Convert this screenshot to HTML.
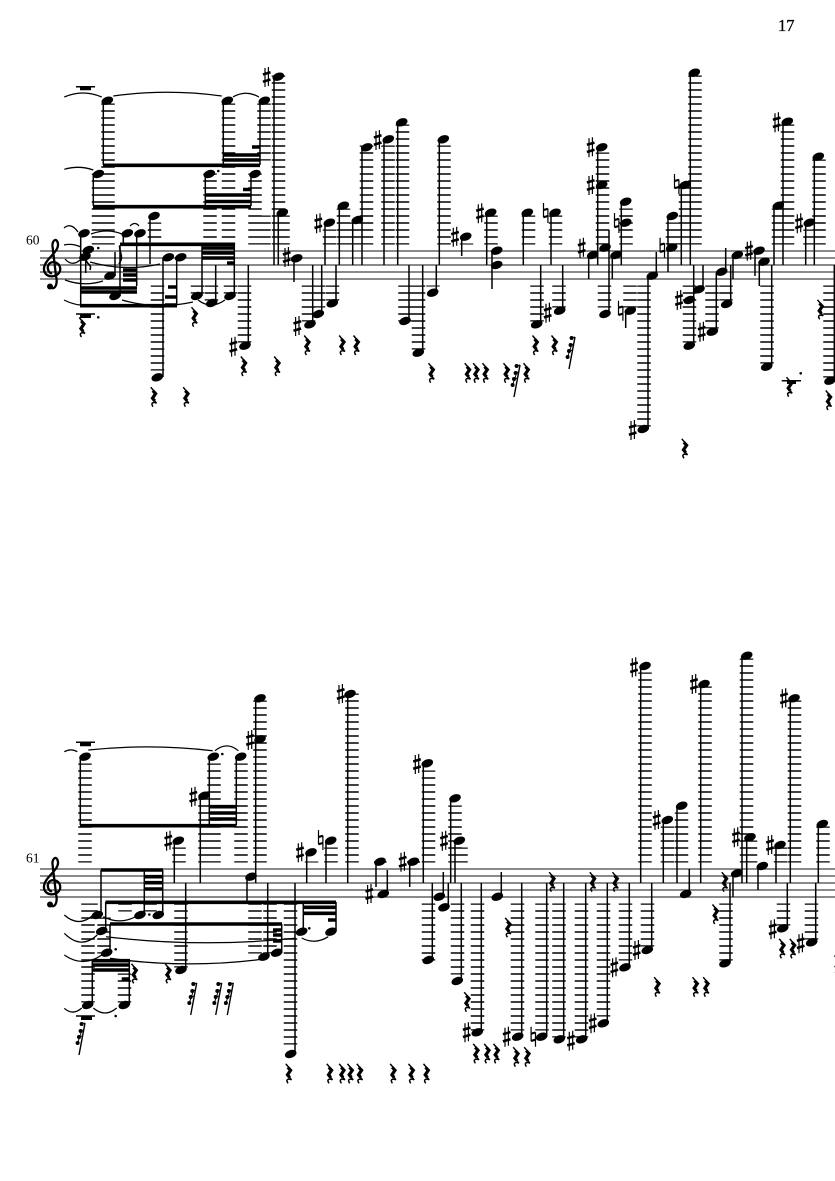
<!DOCTYPE html>
<html><head><meta charset="utf-8"><style>
html,body{margin:0;padding:0;background:#fff}
svg{display:block}
.st{stroke:#000;stroke-width:1.5;fill:none}
.ld{stroke:#000;stroke-width:13.5;stroke-dasharray:1.5 5.5;stroke-dashoffset:.2;fill:none}
.bm{stroke:#000;stroke-width:3.6;fill:none}
.tie{stroke:#000;stroke-width:1.25;fill:none}
.sl{stroke:#444;stroke-width:1.2;fill:none}
text{font-family:"Liberation Serif",serif;fill:#000}
</style></head><body>
<svg xmlns="http://www.w3.org/2000/svg" width="835" height="1181" viewBox="0 0 835 1181">
<defs>
<ellipse id="h" rx="6" ry="3.900" transform="rotate(-20)"/>
<g id="s"><path d="M-1.700-9V10M1.700-10V9" stroke="#000" stroke-width="1.200" fill="none"/><path d="M-3.800-2.500 3.800-4.700M-3.800 4.700 3.800 2.500" stroke="#000" stroke-width="2.600" fill="none"/></g>
<g id="n"><path d="M-2.200-10V4.500M2.200-4.500V10" stroke="#000" stroke-width="1.200" fill="none"/><path d="M-2.200-3 2.200-4.200M-2.200 4.200 2.200 3" stroke="#000" stroke-width="2.200" fill="none"/></g>
<g id="r"><path d="M-2.500-9.500 2.800-3 -.8 1.500 3.200 6.500C0 5-3 6-.3 10" stroke="#000" stroke-width="1.500" fill="none"/><path d="M-.5-6 2.300-3 -.8 1.500 1.400 4.200" stroke="#000" stroke-width="3.200" fill="none"/></g>
<g id="k"><path d="M5-15-1 17" stroke="#000" stroke-width="1.400"/><circle cx="1.600" cy="-14" r="2"/><circle cx=".6" cy="-7" r="2"/><circle cx="-1" cy="-1" r="2"/><circle cx="-2.400" cy="5" r="2"/><path d="M1.600-14 5-15M.6-7 3.600-8M-1-1 2.400-2M-2.400 5 1-5" stroke="#000" stroke-width="1" fill="none"/></g>
<g id="c"><path d="M50 287C55 291 58 284 56 276L52.500 246C52 240 57 237 58 244C59 252 45 259 44 268C43 278 57 279 60 271C62 262 50 259 48 266C47 270 50 274 52 273" stroke="#000" stroke-width="2.300" fill="none"/><circle cx="50" cy="286.500" r="3"/></g>
</defs>
<rect width="835" height="1181" fill="#fff"/>
<text x="778" y="31" font-size="16.500" stroke="#000" stroke-width=".3">17</text>
<text x="26" y="244.500" font-size="13.500">60</text>
<text x="26" y="862.500" font-size="13.500">61</text>
<path class="sl" d="M40 251H835M40 258H835M40 265H835M40 272H835M40 279H835M40 869H835M40 876H835M40 883H835M40 890H835M40 897H835"/>
<use href="#c"/><use href="#c" y="618"/>

<!-- ledgers -->
<path class="ld" d="M108 103.500V244.500M98.500 173.500V244.500M228.500 103.500V244.500M264 103.500V160.500M264 215.500V244.500M255 173.500V244.500M210 173.500V244.500M283 215.500V244.500M278.500 75.500V244.500M154.500 222.500V244.500M157.500 285.500V370.500M197.500 285.500V293.500M211.500 285.500V300.500M230.500 285.500V293.500M244.500 285.500V342.500M308.500 285.500V321.500M318.500 285.500V307.500M332.500 285.500V300.500M329.500 229.500V244.500M343.500 208.500V244.500M357 222.500V244.500M366.500 145.500V244.500M388 145.500V244.500M402.500 124.500V244.500M444 145.500V244.500M405 285.500V321.500M418.500 285.500V349.500M433 285.500V286.500M466.500 243.500V244.500M491 215.500V244.500M528.500 215.500V244.500M555.500 215.500V244.500M537 285.500V321.500M559 285.500V307.500M602.500 152.500V244.500M604.500 285.500V307.500M626 208.500V244.500M630 285.500V307.500M644 285.500V426.500M672.500 222.500V244.500M685.500 187.500V244.500M695 75.500V244.500M689.500 285.500V342.500M712 285.500V328.500M726 285.500V300.500M767 285.500V363.500M778.500 208.500V244.500M787.500 124.500V244.500M810 229.500V244.500M819 159.500V244.500M830 285.500V377.500"/>
<path class="ld" d="M85 763.500V862.500M214 763.500V862.500M241 763.500V862.500M205 798.500V862.500M260 700.500V862.500M352 693.500V862.500M179 847.500V862.500M311.500 861.500V862.500M331 847.500V862.500M428.500 770.500V862.500M455 805.500V862.500M461 847.500V862.500M91 903.500V911.500M125 903.500V911.500M150 903.500V911.500M88 903.500V1002.500M104 917.500V953.500M124.500 973.500V1002.500M181 903.500V967.500M255 903.500V953.500M270 903.500V953.500M290.500 903.500V1044.500M428.500 903.500V960.500M457.500 903.500V974.500M477.500 903.500V1030.500M517.500 903.500V1030.500M542 903.500V1030.500M559 903.500V1037.500M581.500 903.500V1037.500M603.500 903.500V1016.500M625.500 903.500V960.500M647.500 903.500V946.500M645 672.500V862.500M667.500 826.500V862.500M681.500 812.500V862.500M705 686.500V862.500M726 903.500V960.500M746.500 658.500V862.500M750.500 840.500V862.500M780.500 847.500V862.500M794.500 700.500V862.500M783.500 903.500V925.500M823 826.500V862.500M811.500 903.500V939.500"/>
<path d="M374 862H386.500M407 862H420" stroke="#000" stroke-width="1.400" fill="none"/>

<!-- stems -->
<path class="st" d="M103.300 100V165M223.300 100V165M260 100V165M93.300 174V206M205.300 174V206M251 174V206M278.300 213V265M274 77V265M80.700 233V306M85.700 258V273M115 252V276M120 245V296M123.300 233V245M136.700 233V286M176.700 257V305M163 258V377M150 216V264M202 244V296M215.700 265V303M234.300 244V296M248.300 265V345M294 258V282M312.700 265V324M321.700 265V314M336 265V303M325 223V265M339.300 206V265M352.700 220V265M362 147V265M384 139V265M397.700 122V265M439.300 139V265M409 265V321M422.700 265V352M436.300 265V292M461.700 237V256M486.700 213V265M492 251V289M523.300 213V265M551 213V265M540.700 265V324M562.700 265V310M597.700 147V265M588.700 255V279M609 230V314M612.300 255V279M621.300 202V265M625.700 311V328M656.300 252V276M648 276V429M668 216V272M681.300 185V265M690.300 73V265M703 265V289M693.700 265V345M716.300 273V331M725.700 248V272M730.700 265V304M733 255V279M755 251V276M759.300 262V286M771.700 265V366M774 206V265M783 122V265M805.700 223V265M814.300 157V265M834.300 265V380"/>
<path class="st" d="M80.300 757V825M209.300 757V825M236.300 757V825M200.300 796V883M255.700 698V883M247 877V902M347.700 694V883M174.300 841V883M306.700 852V883M326 841V883M101 870V915M144.300 870V915M162.700 870V915M105.700 902V931M110 924V953M267.700 883V957M281.700 924V953M295 883V1054M303.300 902V931M336 902V931M185.700 883V970M92.300 961V1005M129.300 961V1005M376 862V887M387.300 870V894M409.700 862V887M423.300 763V883M443.300 872V897M432.300 883V960M448.300 883V907M450.700 798V883M455 841V883M461.300 883V981M481.300 883V1032M501.300 872V897M521.700 883V1037M546.700 883V1037M563.700 883V1039M585.700 883V1039M607.300 883V1023M629.300 883V967M651.700 883V950M640.700 666V883M663.300 820V883M677 806V883M689.300 869V894M700.700 684V883M730 883V963M733 873V897M742 656V883M746.700 837V883M758 866V890M776 845V883M790.300 698V883M787.300 883V928M818.300 824V883M815.700 883V942"/>
<path d="M119.500 246C120 255 124 256 119 264" stroke="#000" stroke-width="1.600" fill="none"/>
<path d="M86 260C88 266 92 264 90 270" stroke="#000" stroke-width="1.600" fill="none"/>

<!-- beams -->
<path class="bm" d="M103 165.300H260M93 206.700H251M205 195H251M205 201.500H251M243 189.500H251M223 155H260M223 160H260M252 147H260M80 288H137M80 292H137M123 270H137M123 275H137M123 280H137M80 305.700H177M120 244.300H235M202 248H234M202 253H234M202 258H234M227 263H234M168 287H177M165 297H177M165 305H177"/>
<path class="bm" d="M80 825.700H236.500M209 806.700H236.500M209 813H236.500M209 819H236.500M101 870H163M144 876.700H163M144 882.700H163M144 889H163M105.500 902.300H336M110 924H282M273 930H282M273 935H282M273 941H282M303 907.300H336M303 913.300H336M328 920H336M91.700 960.700H130M91.700 965H130M91.700 970H130M121.700 979H130"/>

<!-- whole/half rest bars -->
<path d="M76 86.700H95M781.700 380.700H801M76 314H95M76 742.300H95M76 1016H95" stroke="#000" stroke-width="1.500" fill="none"/>
<path d="M80 87H91V90.300H80ZM787 381H796V384H787ZM80 314.500H91V318H80ZM80 743H91V746.300H80ZM81 1016.500H92V1020H81Z"/>

<!-- ties -->
<path class="tie" d="M64.300 97Q83 89 101.700 97M113.300 96Q167 88.600 221.700 96M233 97Q246 89.600 259 97M64.300 169.300Q79 165 93.300 170M64 228Q71 222 78 232M91 234Q107 228 122 234M130 226Q135 221 139 226M64 245Q72 243 81 247M65 259Q72 267 80 260M65 280Q84 287 103 281M90 262Q125 272 160 264M64 300Q72 304 80 305M122 300Q157 310 193 302M198 300Q211 310 225 300"/>
<path class="tie" d="M64.300 751.700Q71 748 77.300 751.700M88.300 750Q150 743.400 212.700 750.700M215 750.700Q227 741 238.300 750.700M301.700 938Q315 945 328.300 936.700M64.300 915Q79 928 93.300 915M64.300 933.300Q81 950 97.300 935M64.300 955Q83 968 101.700 955M103.300 916.700Q119 925 135 917M106 936.700Q200 948 295 938.300M110 958.300Q186 969 261.700 959.300M64.300 1008.300Q73 1016 81.700 1008M93.300 1008Q105 1018 116.700 1008"/>

<!-- noteheads -->
<g>
<use href="#h" x="107.300" y="100.700"/><use href="#h" x="98.300" y="174"/><use href="#h" x="227.300" y="100.700"/><use href="#h" x="264.300" y="100.700"/><use href="#h" x="209.300" y="174"/><use href="#h" x="255" y="174"/><use href="#h" x="282.300" y="212.700"/><use href="#h" x="278.300" y="76.700"/><use href="#h" x="84" y="233.300"/><use href="#h" x="88.300" y="250"/><use href="#h" x="85" y="256.700"/><use href="#h" x="110" y="275.700"/><use href="#h" x="115" y="296"/><use href="#h" x="127.300" y="233.300"/><use href="#h" x="140" y="233.300"/><use href="#h" x="154" y="216"/><use href="#h" x="168.300" y="257.300"/><use href="#h" x="180.700" y="257.300"/><use href="#h" x="157.300" y="377.300"/><use href="#h" x="196.700" y="296"/><use href="#h" x="211.700" y="303"/><use href="#h" x="230" y="296"/><use href="#h" x="245" y="345.700"/>
<use href="#h" x="296.700" y="258.300"/><use href="#h" x="310" y="324.300"/><use href="#h" x="318.300" y="314"/><use href="#h" x="332.300" y="303.300"/><use href="#h" x="329.300" y="222.700"/><use href="#h" x="343.300" y="205.700"/><use href="#h" x="357.300" y="220"/><use href="#h" x="366.700" y="147.300"/><use href="#h" x="388.300" y="139.300"/><use href="#h" x="401.700" y="122.300"/><use href="#h" x="443.300" y="139.300"/><use href="#h" x="405" y="321"/><use href="#h" x="418.300" y="352.700"/><use href="#h" x="432.700" y="292.700"/><use href="#h" x="465.700" y="236.700"/><use href="#h" x="490.700" y="212.700"/><use href="#h" x="496.700" y="250.700"/><use href="#h" x="496.700" y="265"/><use href="#h" x="527.300" y="212.700"/><use href="#h" x="555" y="212.700"/><use href="#h" x="536.700" y="324.300"/><use href="#h" x="559.700" y="310.700"/>
<use href="#h" x="601.700" y="147.300"/><use href="#h" x="601.700" y="185"/><use href="#h" x="592.700" y="255"/><use href="#h" x="605" y="247.700"/><use href="#h" x="605" y="314"/><use href="#h" x="616" y="255"/><use href="#h" x="625.700" y="201.700"/><use href="#h" x="625.700" y="222.700"/><use href="#h" x="630.300" y="310.700"/><use href="#h" x="652.300" y="275.700"/><use href="#h" x="643.300" y="429"/><use href="#h" x="671.700" y="247.700"/><use href="#h" x="672.300" y="216"/><use href="#h" x="685" y="185"/><use href="#h" x="694.300" y="72.700"/><use href="#h" x="699" y="289.300"/><use href="#h" x="689.300" y="300"/><use href="#h" x="689.300" y="345.700"/><use href="#h" x="712.300" y="331.700"/><use href="#h" x="721.700" y="271.700"/><use href="#h" x="726.700" y="304"/><use href="#h" x="737.300" y="255"/><use href="#h" x="759" y="250.700"/><use href="#h" x="764" y="261.700"/><use href="#h" x="766.700" y="366.700"/><use href="#h" x="778.300" y="205.700"/><use href="#h" x="787.300" y="121.700"/><use href="#h" x="809.300" y="222.700"/><use href="#h" x="818.300" y="156.700"/><use href="#h" x="830" y="380.700"/>
<use href="#h" x="85" y="756.700"/><use href="#h" x="213.300" y="756.700"/><use href="#h" x="240.700" y="756.700"/><use href="#h" x="204" y="795.700"/><use href="#h" x="260" y="739.300"/><use href="#h" x="260" y="698.300"/><use href="#h" x="251" y="876.700"/><use href="#h" x="350" y="694"/><use href="#h" x="178.300" y="840.700"/><use href="#h" x="311" y="852.300"/><use href="#h" x="330.700" y="840.700"/><use href="#h" x="97.300" y="915"/><use href="#h" x="140" y="915"/><use href="#h" x="158.300" y="915"/><use href="#h" x="101.700" y="931"/><use href="#h" x="106.700" y="952.700"/><use href="#h" x="264" y="956.700"/><use href="#h" x="276.700" y="952.700"/><use href="#h" x="290.700" y="1054"/><use href="#h" x="301.700" y="931.700"/><use href="#h" x="331" y="931.700"/><use href="#h" x="181" y="970"/><use href="#h" x="87.700" y="1005"/><use href="#h" x="124.300" y="1005"/>
<use href="#h" x="380" y="861.700"/><use href="#h" x="383.300" y="894"/><use href="#h" x="413.300" y="861.700"/><use href="#h" x="427.300" y="763.300"/><use href="#h" x="439.300" y="896.700"/><use href="#h" x="428.300" y="960"/><use href="#h" x="444" y="907.300"/><use href="#h" x="455" y="798.300"/><use href="#h" x="459.300" y="840.700"/><use href="#h" x="457.300" y="981"/><use href="#h" x="477.300" y="1032.300"/><use href="#h" x="497.300" y="896.700"/><use href="#h" x="517.700" y="1036.700"/><use href="#h" x="541.700" y="1036.700"/><use href="#h" x="559.300" y="1039.300"/><use href="#h" x="581.700" y="1039.300"/>
<use href="#h" x="603.300" y="1023.300"/><use href="#h" x="625" y="967.300"/><use href="#h" x="647.300" y="950"/><use href="#h" x="645" y="666"/><use href="#h" x="667.300" y="820"/><use href="#h" x="681.700" y="805.700"/><use href="#h" x="685.700" y="894"/><use href="#h" x="704" y="684"/><use href="#h" x="725" y="963.300"/><use href="#h" x="736.700" y="873.300"/><use href="#h" x="746.700" y="655.700"/><use href="#h" x="750" y="837.300"/><use href="#h" x="762.300" y="866"/><use href="#h" x="780" y="845"/><use href="#h" x="794" y="698.300"/><use href="#h" x="782.700" y="928.300"/><use href="#h" x="822.300" y="824"/><use href="#h" x="811.700" y="942.300"/>
</g>

<!-- dots -->
<g><circle cx="218.300" cy="171" r="1.300"/><circle cx="98.300" cy="248" r="1.300"/><circle cx="98.300" cy="317.300" r="1.300"/><circle cx="800.700" cy="373.300" r="1.300"/><circle cx="222.300" cy="754" r="1.300"/><circle cx="149.300" cy="914.500" r="1.300"/><circle cx="115.700" cy="949.300" r="1.300"/><circle cx="309.300" cy="928.300" r="1.300"/><circle cx="115.700" cy="1016" r="1.300"/></g>

<!-- sharps -->
<g>
<use href="#s" x="266.700" y="77"/><use href="#s" x="233.300" y="346.700"/><use href="#s" x="286.700" y="257"/><use href="#s" x="297.300" y="326"/><use href="#s" x="318.300" y="223.300"/><use href="#s" x="377.700" y="140"/><use href="#s" x="455" y="236.700"/><use href="#s" x="480" y="213.300"/><use href="#s" x="547.700" y="312.700"/><use href="#s" x="590.700" y="147.300"/><use href="#s" x="590.700" y="185"/><use href="#s" x="581.700" y="247.700"/><use href="#s" x="632.700" y="430"/><use href="#s" x="679" y="300"/><use href="#s" x="701.700" y="331.700"/><use href="#s" x="749" y="250.700"/><use href="#s" x="776.700" y="122.300"/><use href="#s" x="799" y="223.300"/>
<use href="#s" x="193.300" y="796.700"/><use href="#s" x="250" y="740"/><use href="#s" x="340.700" y="694"/><use href="#s" x="168.300" y="840.700"/><use href="#s" x="300" y="852.300"/><use href="#s" x="369.300" y="894"/><use href="#s" x="402.700" y="861.700"/><use href="#s" x="417" y="764"/><use href="#s" x="444" y="840.700"/><use href="#s" x="466.700" y="1032.300"/><use href="#s" x="506.700" y="1036.700"/><use href="#s" x="571" y="1040.700"/><use href="#s" x="592.700" y="1023.300"/><use href="#s" x="614.300" y="967.300"/><use href="#s" x="636.700" y="950"/><use href="#s" x="634" y="667.300"/><use href="#s" x="656.700" y="820"/><use href="#s" x="694" y="684"/><use href="#s" x="736" y="837.300"/><use href="#s" x="770" y="845"/><use href="#s" x="784" y="698.300"/><use href="#s" x="772.700" y="929.300"/><use href="#s" x="800.700" y="943.300"/>
</g>
<!-- naturals -->
<g><use href="#n" x="545.700" y="213"/><use href="#n" x="616.700" y="223"/><use href="#n" x="620.700" y="310.700"/><use href="#n" x="662.300" y="247.700"/><use href="#n" x="676.700" y="184"/><use href="#n" x="320.700" y="840"/><use href="#n" x="533.300" y="1036.700"/></g>

<!-- rests -->
<g>
<use href="#r" x="81.700" y="327"/><use href="#r" x="194" y="316.700"/><use href="#r" x="243.300" y="366"/><use href="#r" x="276.700" y="366"/><use href="#r" x="153.300" y="396.700"/><use href="#r" x="185.700" y="396.700"/><use href="#r" x="306.700" y="345"/><use href="#r" x="341.700" y="345"/><use href="#r" x="356" y="345"/><use href="#r" x="431" y="372.700"/><use href="#r" x="467.300" y="372.700"/><use href="#r" x="475.700" y="372.700"/><use href="#r" x="485" y="372.700"/><use href="#r" x="506" y="372.700"/><use href="#r" x="526" y="372.700"/><use href="#r" x="535" y="345"/><use href="#r" x="554" y="345"/><use href="#r" x="820" y="309.300"/><use href="#r" x="828.300" y="400"/><use href="#r" x="684.300" y="448.300"/><use href="#r" x="789" y="386.700"/>
<use href="#r" x="167.700" y="973.300"/><use href="#r" x="134" y="973.300"/><use href="#r" x="288.300" y="1073.300"/><use href="#r" x="329.300" y="1073.300"/><use href="#r" x="341.700" y="1073.300"/><use href="#r" x="350" y="1073.300"/><use href="#r" x="359.300" y="1073.300"/><use href="#r" x="392.700" y="1073.300"/><use href="#r" x="411" y="1073.300"/><use href="#r" x="426" y="1073.300"/><use href="#r" x="551.700" y="881.700"/><use href="#r" x="592.300" y="881.700"/><use href="#r" x="507.700" y="927.300"/><use href="#r" x="466.700" y="1001.700"/><use href="#r" x="475.700" y="1053.300"/><use href="#r" x="486.700" y="1053.300"/><use href="#r" x="496" y="1053.300"/><use href="#r" x="515.700" y="1056.700"/><use href="#r" x="526.700" y="1056.700"/><use href="#r" x="615" y="881.700"/><use href="#r" x="724.300" y="881.700"/><use href="#r" x="715" y="914"/><use href="#r" x="656.700" y="986.700"/><use href="#r" x="695" y="986.700"/><use href="#r" x="705.700" y="986.700"/><use href="#r" x="781.700" y="948.300"/><use href="#r" x="792.300" y="948.300"/><use href="#r" x="837" y="965"/>
</g>
<!-- stacked rests -->
<g><use href="#k" x="515" y="380"/><use href="#k" x="570" y="352"/><use href="#k" x="80" y="1038"/><use href="#k" x="191.700" y="998"/><use href="#k" x="216.700" y="998"/><use href="#k" x="228.300" y="998"/></g>
</svg>
</body></html>
